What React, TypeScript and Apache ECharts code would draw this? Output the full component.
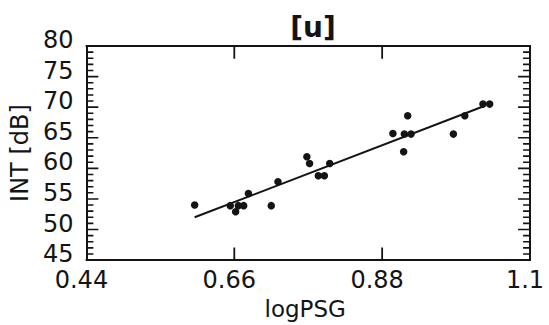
import React, { useEffect, useRef } from "react";
import * as echarts from "echarts";

const titleText = "[u]";
const xAxisName = "logPSG";
const yAxisName = "INT [dB]";
const xTickLabels = ["0.44", "0.66", "0.88", "1.1"];
const xTickValues = [0.44, 0.66, 0.88, 1.1];
const xInnerTicks = [0.66, 0.88];
const yTickValues = [45, 46, 47, 48, 49, 50, 51, 52, 53, 54, 55, 56, 57, 58, 59, 60, 61, 62, 63, 64, 65, 66, 67, 68, 69, 70, 71, 72, 73, 74, 75, 76, 77, 78, 79, 80];

const pointX = [0.601, 0.654, 0.662, 0.666, 0.674, 0.681, 0.715, 0.725, 0.768, 0.772, 0.785, 0.794, 0.802, 0.896, 0.913, 0.912, 0.918, 0.923, 0.986, 1.003, 1.03, 1.04];
const pointY = [54.0, 53.9, 52.9, 53.9, 53.9, 55.9, 53.9, 57.8, 61.9, 60.8, 58.8, 58.8, 60.8, 65.7, 65.6, 62.7, 68.6, 65.6, 65.6, 68.6, 70.5, 70.5];

const fitX = [0.601, 1.032];
const fitY = [52.0, 70.2];

const FONT = "DejaVu Sans";
const INK = "#141414";
const X_MIN = 0.44;
const X_MAX = 1.1;
const Y_MIN = 45;
const Y_MAX = 80;
const W = 549;
const H = 325;
const GRID = { left: 83, right: 19, top: 46, bottom: 59 };

export default function App() {
  const ref = useRef<HTMLDivElement>(null);
  useEffect(() => {
    if (!ref.current) return;
    const chart = echarts.init(ref.current, null, { renderer: "svg" });
    const xFmt = (v: number) => {
      let best = 0;
      for (let i = 0; i < xTickValues.length; i++) {
        if (Math.abs(xTickValues[i] - v) < Math.abs(xTickValues[best] - v)) best = i;
      }
      return "{t|" + xTickLabels[best] + "}";
    };
    // data units per pixel, so tick lengths can be given in pixels
    const dxPx = (X_MAX - X_MIN) / (W - GRID.left - GRID.right);
    const dyPx = (Y_MAX - Y_MIN) / (H - GRID.top - GRID.bottom);

    const yTickSegs: any[] = [];
    yTickValues.forEach((v) => {
      const len = v % 5 === 0 ? 12 : 7;
      yTickSegs.push([X_MIN, v], [X_MIN + len * dxPx, v], [X_MIN, "-"]);
      yTickSegs.push([X_MAX, v], [X_MAX - len * dxPx, v], [X_MAX, "-"]);
    });
    const xTickSegs: any[] = [];
    xInnerTicks.forEach((v) => {
      xTickSegs.push([v, Y_MIN], [v, Y_MIN + 13 * dyPx], ["-", Y_MIN]);
      xTickSegs.push([v, Y_MAX], [v, Y_MAX - 13 * dyPx], ["-", Y_MAX]);
    });

    const axisLine = () => ({ show: true, onZero: false, lineStyle: { color: INK, width: 2 } });
    chart.setOption({
      animation: false,
      backgroundColor: "#ffffff",
      title: {
        text: titleText,
        left: 308,
        top: 8,
        textAlign: "center",
        textStyle: { fontFamily: FONT, fontWeight: "bold", fontSize: 28, color: INK },
      },
      grid: GRID,
      xAxis: [
        {
          type: "value",
          min: X_MIN,
          max: X_MAX,
          interval: 0.22,
          position: "bottom",
          axisLine: axisLine(),
          splitLine: { show: false },
          axisTick: { show: false },
          name: xAxisName,
          nameLocation: "middle",
          nameGap: 35,
          nameTextStyle: { fontFamily: FONT, fontSize: 23, color: INK, padding: [0, 6, 0, 0] },
          axisLabel: {
            formatter: xFmt,
            margin: 8,
            rich: { t: { fontFamily: FONT, fontSize: 24, color: INK, padding: [0, 10, 0, 0] } },
          },
        },
        {
          type: "value",
          min: X_MIN,
          max: X_MAX,
          interval: 0.22,
          position: "top",
          axisLine: axisLine(),
          splitLine: { show: false },
          axisTick: { show: false },
          axisLabel: { show: false },
        },
      ],
      yAxis: [
        {
          type: "value",
          min: Y_MIN,
          max: Y_MAX,
          interval: 5,
          position: "left",
          axisLine: axisLine(),
          splitLine: { show: false },
          axisTick: { show: false },
          name: yAxisName,
          nameLocation: "middle",
          nameGap: 54,
          nameTextStyle: { fontFamily: FONT, fontSize: 24, color: INK },
          axisLabel: {
            fontFamily: FONT,
            fontSize: 24,
            color: INK,
            margin: 13,
            verticalAlign: "bottom",
            lineHeight: 12,
          },
        },
        {
          type: "value",
          min: Y_MIN,
          max: Y_MAX,
          interval: 5,
          position: "right",
          axisLine: axisLine(),
          splitLine: { show: false },
          axisTick: { show: false },
          axisLabel: { show: false },
        },
      ],
      series: [
        {
          type: "line",
          name: "yTicks",
          xAxisIndex: 0,
          yAxisIndex: 0,
          showSymbol: false,
          symbol: "none",
          connectNulls: false,
          silent: true,
          lineStyle: { color: INK, width: 1.6 },
          data: yTickSegs,
          z: 1,
        },
        {
          type: "line",
          name: "xTicks",
          xAxisIndex: 0,
          yAxisIndex: 0,
          showSymbol: false,
          symbol: "none",
          connectNulls: false,
          silent: true,
          lineStyle: { color: INK, width: 1.8 },
          data: xTickSegs,
          z: 1,
        },
        {
          type: "scatter",
          xAxisIndex: 0,
          yAxisIndex: 0,
          symbol: "circle",
          symbolSize: 7.5,
          itemStyle: { color: INK, opacity: 1 },
          data: pointX.map((x, i) => [x, pointY[i]]),
          z: 3,
        },
        {
          type: "line",
          xAxisIndex: 0,
          yAxisIndex: 0,
          showSymbol: false,
          symbol: "none",
          lineStyle: { color: INK, width: 2 },
          data: fitX.map((x, i) => [x, fitY[i]]),
          z: 2,
        },
      ],
    });
    return () => chart.dispose();
  }, []);
  return (
    <div
      ref={ref}
      style={{ position: "fixed", left: 0, top: 0, width: W, height: H, background: "#fff" }}
    />
  );
}
